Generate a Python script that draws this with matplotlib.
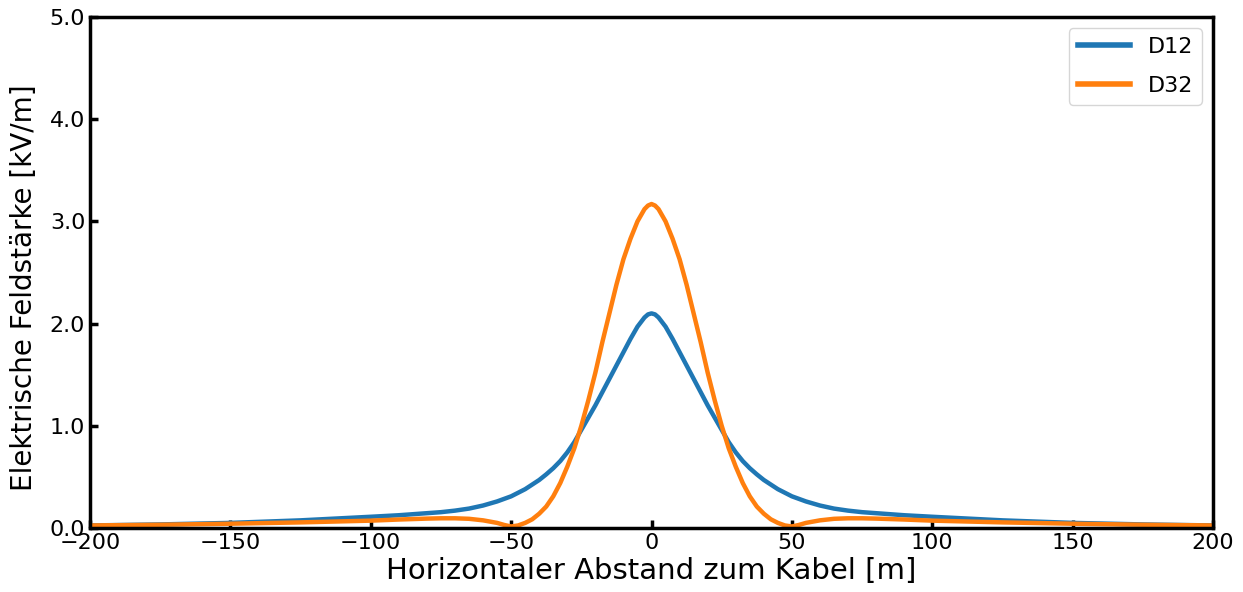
import numpy as np
import matplotlib.pyplot as plt
from matplotlib.ticker import FormatStrFormatter

# horizontal distance to cable [m]
x = [-200, -175, -150, -125, -100, -90, -80, -75, -70, -65, -60, -55, -52.5, -50,
     -47.5, -45, -42.5, -40, -37.5, -35, -32.5, -30, -27.5, -25, -22.5, -20,
     -17.5, -15, -12.5, -10, -7.5, -5, -2.5, -1.25, 0,
     1.25, 2.5, 5, 7.5, 10, 12.5, 15, 17.5, 20, 22.5, 25, 27.5, 30, 32.5, 35,
     37.5, 40, 42.5, 45, 47.5, 50, 52.5, 55, 60, 65, 70, 75, 80, 90, 100,
     125, 150, 175, 200]

# field strength [kV/m]
d12 = [0.025, 0.035, 0.05, 0.075, 0.11, 0.125, 0.145, 0.155, 0.17, 0.19, 0.22, 0.26, 0.285, 0.31,
       0.345, 0.38, 0.425, 0.47, 0.525, 0.585, 0.655, 0.74, 0.84, 0.96, 1.08, 1.20,
       1.33, 1.46, 1.59, 1.72, 1.85, 1.97, 2.06, 2.09, 2.10,
       2.09, 2.06, 1.97, 1.85, 1.72, 1.59, 1.46, 1.33, 1.20, 1.08, 0.96, 0.84, 0.74, 0.655, 0.585,
       0.525, 0.47, 0.425, 0.38, 0.345, 0.31, 0.285, 0.26, 0.22, 0.19, 0.17, 0.155, 0.145, 0.125, 0.11,
       0.075, 0.05, 0.035, 0.025]

d32 = [0.025, 0.032, 0.042, 0.055, 0.072, 0.083, 0.092, 0.095, 0.095, 0.09, 0.075, 0.05, 0.03, 0.015,
       0.025, 0.05, 0.085, 0.14, 0.21, 0.31, 0.44, 0.60, 0.78, 1.00, 1.25, 1.52,
       1.82, 2.10, 2.38, 2.63, 2.83, 3.00, 3.12, 3.155, 3.17,
       3.155, 3.12, 3.00, 2.83, 2.63, 2.38, 2.10, 1.82, 1.52, 1.25, 1.00, 0.78, 0.60, 0.44, 0.31,
       0.21, 0.14, 0.085, 0.05, 0.025, 0.015, 0.03, 0.05, 0.075, 0.09, 0.095, 0.095, 0.092, 0.083, 0.072,
       0.055, 0.042, 0.032, 0.025]

fig = plt.figure(figsize=(12.43, 5.92), dpi=100)
ax = fig.add_axes([0.0724, 0.1081, 0.9035, 0.8632])

ax.plot(x, d12, color='#1f77b4', lw=3.2, label='D12')
ax.plot(x, d32, color='#ff7f0e', lw=3.2, label='D32')

ax.set_xlim(-200, 200)
ax.set_ylim(0, 5)
ax.set_yticks([0, 1, 2, 3, 4, 5])
ax.yaxis.set_major_formatter(FormatStrFormatter('%.1f'))
ax.tick_params(direction='in', length=6, width=2.5, labelsize=16)
for s in ax.spines.values():
    s.set_linewidth(2.5)

ax.set_xlabel('Horizontaler Abstand zum Kabel [m]', fontsize=21, labelpad=3)
ax.set_ylabel('Elektrische Feldstärke [kV/m]', fontsize=20)
ax.yaxis.set_label_coords(-0.046, 0.47)
leg = ax.legend(loc='upper right', fontsize=16, handlelength=2.35, labelspacing=0.85)
for ln in leg.get_lines():
    ln.set_linewidth(4)

fig.savefig('out.png', dpi=100)
